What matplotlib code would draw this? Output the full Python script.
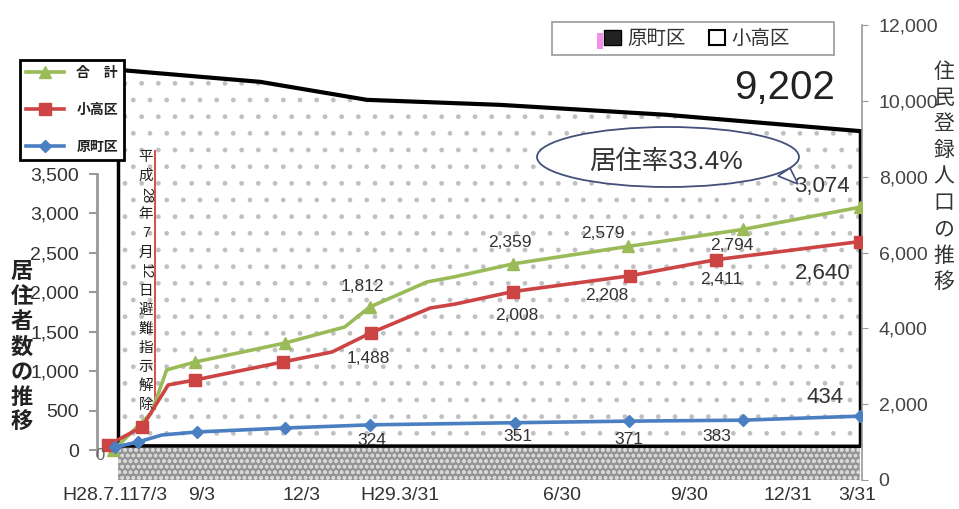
import matplotlib
matplotlib.use("Agg")
import matplotlib.pyplot as plt
from matplotlib.lines import Line2D
from matplotlib.patches import Patch, Ellipse, Rectangle, Polygon
from matplotlib.ticker import FuncFormatter

plt.rcParams['font.family'] = ['Liberation Sans', 'Noto Sans CJK JP']
plt.rcParams['hatch.linewidth'] = 1.0

# x positions: months counted from H28.7.12
total_x = [0.0, 1.0, 1.4, 2.15, 4.5, 6.05, 6.7, 8.2, 8.9, 10.45, 13.45, 16.45, 19.5]
total_y = [0, 474, 1018, 1119, 1359, 1561, 1812, 2130, 2193, 2359, 2579, 2794, 3074]
odaka_x = [-0.13, 0.76, 1.44, 2.14, 4.44, 5.72, 6.74, 8.28, 8.93, 10.44, 13.5, 15.74, 19.5]
odaka_y = [70, 297, 828, 891, 1119, 1245, 1488, 1800, 1850, 2008, 2208, 2411, 2640]
hara_x = [0.05, 0.65, 1.28, 2.19, 4.49, 6.71, 10.5, 13.47, 16.45, 19.5]
hara_y = [44, 107, 196, 234, 284, 324, 351, 371, 383, 434]

# registered population (right axis)
reg_x = [0.13, 3.84, 6.63, 10.1, 14.46, 19.5]
reg_odaka = [10818, 10501, 10026, 9894, 9631, 9202]
reg_hara = [900, 900, 895, 895, 890, 890]

tick_pos = [-0.3, 1.07, 2.32, 4.93, 7.49, 11.72, 15.04, 17.62, 19.43]
tick_labels = ["H28.7.11", "7/3", "9/3", "12/3", "H29.3/31", "6/30", "9/30", "12/31", "3/31"]

event_x = 1.1
event_span = [512, 3799]
event_tokens = ["平", "成", "28", "年", "7", "月", "12", "日", "避", "難", "指", "示", "解", "除"]

rate_text = "居住率33.4%"

# which points carry markers / labels
total_marks = [0, 3, 4, 6, 9, 10, 11, 12]
odaka_marks = [0, 1, 3, 4, 6, 9, 10, 11, 12]
hara_marks = [0, 1, 3, 4, 5, 6, 7, 8, 9]
total_lbl = {6: (-7, 21), 9: (-3, 21), 10: (-25, 13), 11: (-11, -16), 12: (-38, 21)}
odaka_lbl = {6: (-3, -26), 9: (4, -24), 10: (-23, -20), 11: (5, -20), 12: (-37, -32)}
hara_lbl = {5: (2, -16), 6: (3, -14), 7: (0, -18), 8: (-26, -16), 9: (-35, 19)}

W, H = 959, 509
def fx(px):
    return px / W
def fy(py):
    return 1 - py / H

fig = plt.figure(figsize=(9.59, 5.09), dpi=100)
fig.patch.set_facecolor('white')

rect = [fx(97), fy(480), 765 / W, 455 / H]
ax_reg = fig.add_axes(rect)
ax = fig.add_axes(rect, sharex=ax_reg)
ax.set_facecolor('none')

# ---- registered population areas (right scale)
ax_reg.fill_between(reg_x, 0, reg_odaka, facecolor='white', edgecolor='#c0c0c0',
                    hatch='.', linewidth=0)
ax_reg.fill_between(reg_x, 0, reg_hara, facecolor='#959595', edgecolor='#d8d8d8',
                    hatch='ooo', linewidth=0)
ax_reg.plot(reg_x, reg_odaka, color='black', lw=3)
ax_reg.plot(reg_x, reg_hara, color='black', lw=2.5)
ax_reg.vlines([reg_x[0], reg_x[-1]], [reg_hara[0], reg_hara[-1]],
              [reg_odaka[0], reg_odaka[-1]], colors='black', lw=2.5)

ax_reg.set_xlim(-0.418, 19.556)
ax_reg.set_ylim(0, 12000)
ax_reg.yaxis.tick_right()
ax_reg.set_yticks(range(0, 12001, 2000))
ax_reg.yaxis.set_major_formatter(FuncFormatter(lambda v, p: f"{int(v):,}"))
ax_reg.tick_params(axis='y', direction='out', length=4, color='#999999', pad=8,
                   labelsize=14, labelcolor='#444444')
ax_reg.tick_params(axis='x', length=0, labelbottom=False)
for s in ['top', 'bottom', 'left']:
    ax_reg.spines[s].set_visible(False)
ax_reg.spines['right'].set_color('#999999')
ax_reg.spines['right'].set_linewidth(1.2)

# ---- residents lines (left scale)
ax.plot(total_x, total_y, color='#9bbb59', lw=2.6, marker='^', ms=8,
        markevery=total_marks, zorder=4)
ax.plot(odaka_x, odaka_y, color='#cc4444', lw=2.6, marker='s', ms=9,
        markevery=odaka_marks, zorder=4)
ax.plot(hara_x, hara_y, color='#4a7fc1', lw=2.6, marker='D', ms=6.5,
        markevery=hara_marks, zorder=4)

for xs, ys, lbl in [(total_x, total_y, total_lbl), (odaka_x, odaka_y, odaka_lbl),
                    (hara_x, hara_y, hara_lbl)]:
    last = len(ys) - 1
    for i, off in lbl.items():
        ax.annotate(f"{ys[i]:,}", (xs[i], ys[i]), xytext=off, textcoords='offset pixels',
                    ha='center', va='center', color='#333333',
                    fontsize=16 if i == last else 12.5, zorder=5)

ax.vlines(event_x, event_span[0], event_span[1], colors='#d03030', lw=1.2, zorder=3)

ax.set_ylim(-373, 5377)
ax.set_yticks(range(0, 3501, 500))
ax.yaxis.set_major_formatter(FuncFormatter(lambda v, p: f"{int(v):,}"))
ax.tick_params(axis='y', direction='out', length=6, width=1.5, color='#999999', pad=7,
               labelsize=14, labelcolor='#333333')
ax.set_xticks(tick_pos)
ax.set_xticklabels(tick_labels)
ax.tick_params(axis='x', length=0, pad=5, labelsize=14, labelcolor='#333333')
for s in ['top', 'bottom', 'right']:
    ax.spines[s].set_visible(False)
ax.spines['left'].set_color('#999999')
ax.spines['left'].set_linewidth(2)
ax.spines['left'].set_bounds(-57, 3500)

# ---- vertical axis titles
for i, ch in enumerate("居住者数の推移"):
    fig.text(fx(22), fy(272 + i * 25.3), ch, ha='center', va='center',
             fontsize=16, fontweight='bold', color='#222222')
for i, ch in enumerate("住民登録人口の推移"):
    fig.text(fx(944), fy(72 + i * 26.25), ch, ha='center', va='center',
             fontsize=15, color='#333333')
for i, tok in enumerate(event_tokens):
    fig.text(fx(146), fy(157 + i * 19.1), tok, ha='center', va='center',
             fontsize=10.5, color='#222222', rotation=-90 if len(tok) == 2 else 0)

fig.text(fx(100), fy(456), "0", ha='center', va='center', fontsize=12, color='#666666')

# ---- left legend
handles = [Line2D([], [], color='#9bbb59', lw=2.6, marker='^', ms=8),
           Line2D([], [], color='#cc4444', lw=2.6, marker='s', ms=9),
           Line2D([], [], color='#4a7fc1', lw=2.6, marker='D', ms=6.5)]
leg = fig.legend(handles, ["合　計", "小高区", "原町区"], loc='upper left',
                 bbox_to_anchor=(fx(20), fy(60)), borderaxespad=0, fontsize=10,
                 handlelength=2.7, handletextpad=0.9, labelspacing=1.65, numpoints=1,
                 fancybox=False, framealpha=1, edgecolor='black', borderpad=0.45)
leg.get_frame().set_linewidth(2)
for t in leg.get_texts():
    t.set_fontweight('bold')
    t.set_color('#222222')

# ---- top legend
fig.add_artist(Rectangle((fx(552), fy(55)), 282 / W, 33 / H, transform=fig.transFigure,
                         facecolor='white', edgecolor='#999999', lw=1.2))
leg2 = fig.legend([Patch(facecolor='#222222', edgecolor='black'),
                   Patch(facecolor='white', edgecolor='black', lw=1.5)],
                  ["原町区", "小高区"], loc='center', bbox_to_anchor=(fx(697), fy(39)),
                  ncol=2, frameon=False, fontsize=14, handlelength=0.85, handleheight=0.85,
                  handletextpad=0.3, columnspacing=1.2, borderaxespad=0)
for t in leg2.get_texts():
    t.set_color('#333333')
fig.add_artist(Rectangle((fx(597), fy(49)), 6 / W, 16 / H, transform=fig.transFigure,
                         facecolor='#f090e8', edgecolor='none', zorder=6))

# ---- callout
fig.add_artist(Polygon([(fx(778), fy(176)), (fx(798), fy(184)), (fx(790), fy(168))],
                       closed=True, transform=fig.transFigure, facecolor='white',
                       edgecolor='#44507a', lw=1.2))
fig.add_artist(Ellipse((fx(668), fy(157)), 262 / W, 60 / H, transform=fig.transFigure,
                       facecolor='white', edgecolor='#44507a', lw=1.3))
fig.text(fx(666), fy(162), rate_text, ha='center', va='center', fontsize=19, color='#333333')

fig.text(fx(785), fy(88), f"{reg_odaka[-1]:,}", ha='center', va='center', fontsize=29,
         color='#222222')

fig.savefig("out.png", dpi=100)
